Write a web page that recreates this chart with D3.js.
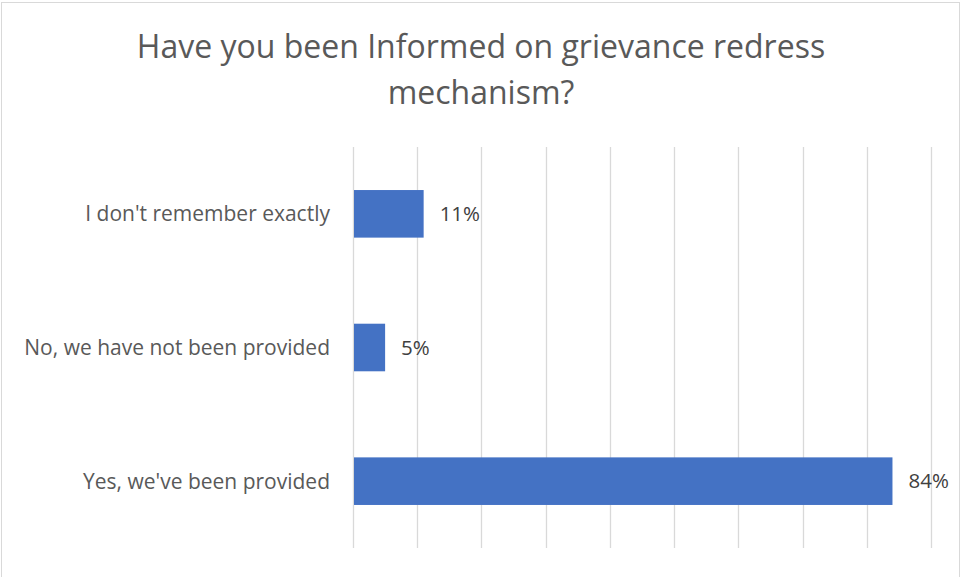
<!DOCTYPE html>
<html>
<head>
<meta charset="utf-8">
<script src="https://cdn.jsdelivr.net/npm/d3@7"></script>
<style>
  html, body { margin: 0; padding: 0; background: #fff; }
  svg { display: block; font-family: "Open Sans", "Noto Sans", sans-serif; }
</style>
</head>
<body>
<svg id="chart" width="961" height="577"></svg>
<script>
// Survey answers, top to bottom as shown
const categories = ["I don't remember exactly", "No, we have not been provided", "Yes, we've been provided"];
const values = [11, 5, 84];
const tickValues = [0, 10, 20, 30, 40, 50, 60, 70, 80, 90];
const titleLines = ["Have you been Informed on grievance redress", "mechanism?"];

const svg = d3.select("#chart");
const W = 961, H = 577;
const plot = { left: 353, right: 931, top: 147, bottom: 548 };

// outer chart border
svg.append("rect")
  .attr("x", 1.5).attr("y", 2.5)
  .attr("width", W - 3).attr("height", H + 10)
  .attr("fill", "#fff").attr("stroke", "#d9d9d9").attr("stroke-width", 1);

const x = d3.scaleLinear().domain([0, 90]).range([plot.left, plot.right]);
const y = d3.scaleBand().domain(categories).range([plot.top, plot.bottom]).paddingInner(0.644).paddingOuter(0.322);

// vertical gridlines
svg.append("g").selectAll("line").data(tickValues).join("line")
  .attr("x1", d => Math.round(x(d)) + 0.5).attr("x2", d => Math.round(x(d)) + 0.5)
  .attr("y1", plot.top).attr("y2", plot.bottom)
  .attr("stroke", "#d9d9d9").attr("stroke-width", 1.3);

// bars
svg.append("g").selectAll("rect").data(categories).join("rect")
  .attr("x", x(0) + 1)
  .attr("y", d => y(d))
  .attr("width", (d, i) => x(values[i]) - x(0) - 1)
  .attr("height", y.bandwidth())
  .attr("fill", "#4472c4");

// value labels
svg.append("g").selectAll("text").data(categories).join("text")
  .attr("x", (d, i) => x(values[i]) + 16)
  .attr("y", d => y(d) + y.bandwidth() / 2)
  .attr("dy", "0.35em")
  .attr("font-size", 20.5)
  .attr("fill", "#404040")
  .text((d, i) => values[i] + "%");

// category labels
svg.append("g").selectAll("text").data(categories).join("text")
  .attr("x", plot.left - 23)
  .attr("y", d => y(d) + y.bandwidth() / 2)
  .attr("dy", "0.35em")
  .attr("text-anchor", "end")
  .attr("font-size", 21)
  .attr("fill", "#595959")
  .text(d => d);

// title
svg.append("g").selectAll("text").data(titleLines).join("text")
  .attr("x", 481)
  .attr("y", (d, i) => 58 + i * 46)
  .attr("text-anchor", "middle")
  .attr("font-size", 32)
  .attr("fill", "#595959")
  .text(d => d);
</script>
</body>
</html>
